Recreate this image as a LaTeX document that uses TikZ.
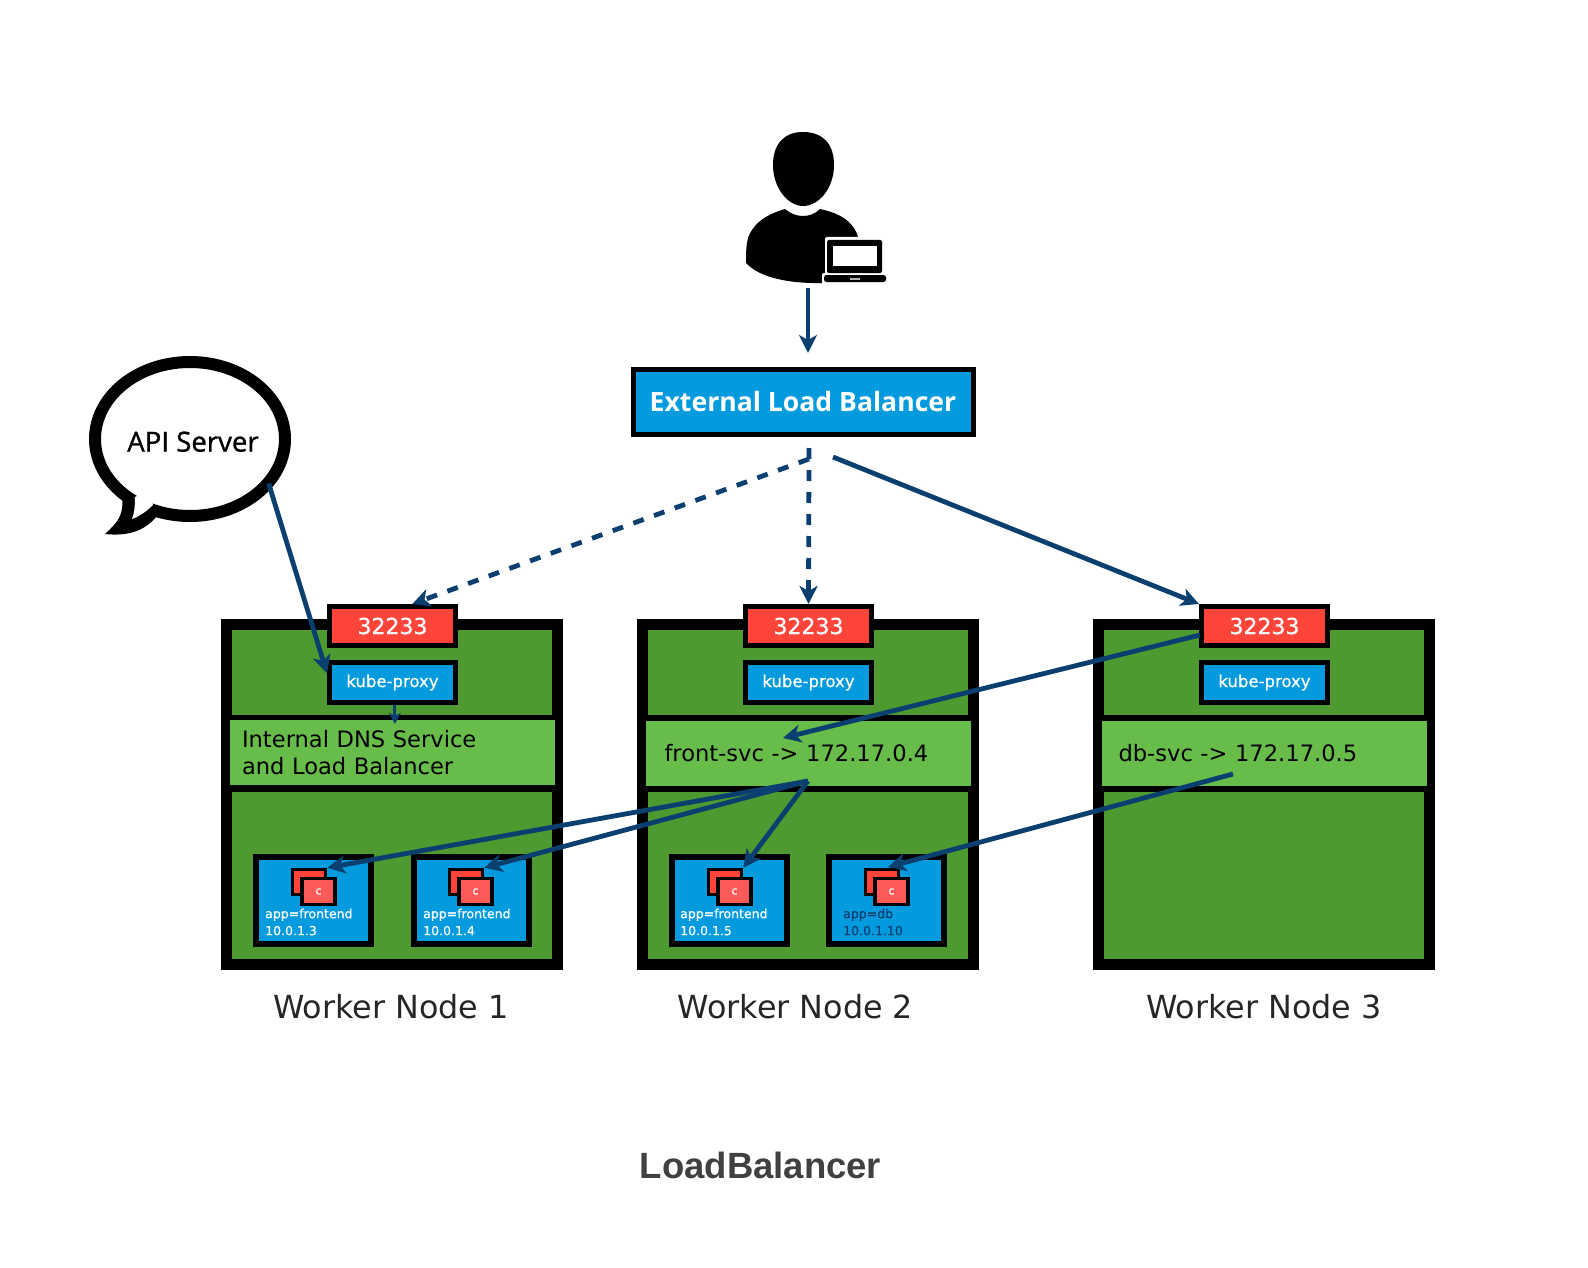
\documentclass[tikz,border=0pt]{standalone}
\usepackage{fontspec}
\usepackage{xcolor}
\usepackage{tikz}
\usetikzlibrary{arrows.meta,shapes.geometric}
\setmainfont{DejaVu Sans}
\newfontfamily\boxfont[FakeBold=0.5]{DejaVu Sans}
\newfontfamily\bubblefont[FakeBold=1]{Open Sans}
\newfontfamily\lbfont{Open Sans}
\newfontfamily\titlefont{Liberation Sans}
\definecolor{nodegreen}{HTML}{4E9A30}
\definecolor{bandgreen}{HTML}{68BC4A}
\definecolor{kubeblue}{HTML}{039BDE}
\definecolor{portred}{HTML}{FF453A}
\definecolor{ctrred}{HTML}{FF5A5A}
\definecolor{flowblue}{HTML}{0B3F6F}
\definecolor{titlegrey}{HTML}{404040}
\tikzset{
  wnode/.style={draw=black, line width=11pt, fill=nodegreen, minimum width=331pt, minimum height=340pt, inner sep=0pt},
  portbox/.style={draw=black, line width=5pt, fill=portred, text=white, minimum width=126pt, minimum height=39pt, inner sep=0pt, font=\boxfont\fontsize{22}{24}\selectfont},
  proxybox/.style={draw=black, line width=5pt, fill=kubeblue, text=white, minimum width=126pt, minimum height=40pt, inner sep=0pt, font=\boxfont\fontsize{16.5}{18}\selectfont},
  bandbar/.style={fill=black, minimum width=321pt, minimum height=77pt, inner sep=0pt},
  bandbox/.style={fill=bandgreen, minimum width=325pt, minimum height=65pt, inner ysep=0pt, align=left, font=\fontsize{22.6}{27}\selectfont},
  podbox/.style={draw=black, line width=6pt, fill=kubeblue, minimum width=115pt, minimum height=87pt, inner sep=0pt},
  ctrback/.style={draw=black, line width=3.5pt, fill=portred, minimum width=33pt, minimum height=25pt, inner sep=0pt},
  ctrfront/.style={draw=black, line width=3.5pt, fill=ctrred, text=white, minimum width=33pt, minimum height=26pt, inner sep=0pt, font=\boxfont\fontsize{11}{11}\selectfont},
  podtext/.style={anchor=west, align=left, inner sep=0pt, text=white, font=\boxfont\fontsize{12.5}{17}\selectfont},
  flow/.style={draw=flowblue, line width=4.8pt, -{Stealth[length=18pt,width=18pt,inset=5pt]}},
  flowdash/.style={flow, dash pattern=on 11pt off 11pt},
  wlabel/.style={font=\fontsize{31.8}{32}\selectfont, text=black!85}
}
\begin{document}
\begin{tikzpicture}[x=1pt,y=-1pt]
\useasboundingbox (0,0) rectangle (1588,1268);
% user with laptop
\fill (803,132) .. controls (823,132) and (834,144) .. (834,165) .. controls (834,188) and (819,206) .. (803,206) .. controls (788,206) and (773,188) .. (773,165) .. controls (773,144) and (784,132) .. (803,132);
\fill (746,263) .. controls (746,250) and (746,238) .. (752,230) .. controls (760,218) and (772,213) .. (785,209) .. controls (791,214) and (797,216) .. (803,216) .. controls (809,216) and (815,214) .. (820,209) .. controls (838,213) and (853,220) .. (858,237) -- (858,250) -- (826,283) .. controls (790,284) and (760,278) .. (746,263);
\fill[white, rounded corners=2pt] (825,237) rectangle (885,275);
\fill[white, rounded corners=2pt] (822,273) rectangle (888,285);
\fill[rounded corners=2pt] (827,240) rectangle (882,273);
\fill[white] (833,246) rectangle (877,266);
\fill[rounded corners=2.5pt] (824,275) rectangle (886,282);
\fill[white!70!black] (850,278) rectangle (860,279.5);
% speech bubble
\node[ellipse, draw=black, line width=12pt, fill=white, minimum width=190pt, minimum height=154pt, inner sep=0pt, font=\bubblefont\fontsize{27.6}{27}\selectfont] (apisrv) at (190,439) {\makebox[0pt]{\hspace{6pt}\raisebox{-12.6pt}[0pt][0pt]{API Server}}};
\fill (122,497) .. controls (124,515) and (118,522) .. (105,534) .. controls (125,536) and (143,533) .. (157,516) -- (145,505) -- cycle;
\fill[white] (135,497) .. controls (135,508) and (134,514) .. (132,519) .. controls (140,516) and (147,511) .. (153,505) -- (150,490) -- cycle;
% load balancer
\node[draw=black, line width=5pt, fill=kubeblue, text=white, minimum width=340pt, minimum height=65pt, inner sep=0pt, font=\lbfont\bfseries\fontsize{26.6}{27}\selectfont] (extlb) at (803,401.5) {External Load Balancer};
\coordinate (usertail) at (808,288);
\coordinate (usertip) at (808,353);
\coordinate (lbtaila) at (809,459);
\coordinate (lbtailb) at (809,448);
\coordinate (lbtailc) at (833,457);
% worker nodes
\node[wnode] (wa) at (392,794.5) {};
\node[wnode] (wb) at (807.5,794.5) {};
\node[wnode] (wc) at (1263.5,794.5) {};
\node[bandbar] (bara) at (392.5,753.5) {};
\node[bandbar] (barb) at (807.5,753.5) {};
\node[bandbar] (barc) at (1263.5,753.5) {};
\node[bandbox, inner xsep=12pt, text width=301pt] (banda) at (392.5,752.5) {Internal DNS Service\\and Load Balancer};
\node[bandbox, inner xsep=19pt, text width=287pt] (bandb) at (808,753.5) {front-svc -> 172.17.0.4};
\node[bandbox, inner xsep=17pt, text width=291pt] (bandc) at (1264,753.5) {db-svc -> 172.17.0.5};
\node[portbox] (porta) at (392.5,626) {32233};
\node[portbox] (portb) at (808.5,626) {32233};
\node[portbox] (portc) at (1264.5,626) {32233};
\node[proxybox] (proxya) at (392.5,682.5) {kube-proxy};
\node[proxybox] (proxyb) at (808.5,682.5) {kube-proxy};
\node[proxybox] (proxyc) at (1264.5,682.5) {kube-proxy};
% pods
\node[podbox] (poda) at (313.5,900.5) {};
\node[podbox] (podb) at (471,900.5) {};
\node[podbox] (podc) at (729.5,900.5) {};
\node[podbox] (podd) at (886.5,900.5) {};
\node[ctrback] (backa) at (309,882) {};
\node[ctrback] (backb) at (466,882) {};
\node[ctrback] (backc) at (725,882) {};
\node[ctrback] (backd) at (882,882) {};
\node[ctrfront] (fronta) at (318.5,891.5) {c};
\node[ctrfront] (frontb) at (475.5,891.5) {c};
\node[ctrfront] (frontc) at (734.5,891.5) {c};
\node[ctrfront] (frontd) at (891.5,891.5) {c};
\node[podtext] (texta) at (265,922) {app=frontend\\10.0.1.3};
\node[podtext] (textb) at (423,922) {app=frontend\\10.0.1.4};
\node[podtext] (textc) at (680,922) {app=frontend\\10.0.1.5};
\node[podtext, text=flowblue] (textd) at (843,922) {app=db\\10.0.1.10};
% labels
\node[wlabel] (laba) at (391,1007) {Worker Node 1};
\node[wlabel] (labb) at (795.5,1007) {Worker Node 2};
\node[wlabel] (labc) at (1264,1007) {Worker Node 3};
\node[text=titlegrey, font=\titlefont\bfseries\fontsize{36.5}{36}\selectfont] (title) at (760.5,1165) {LoadBalancer};
% traffic
\coordinate (frontin) at (783,738);
\coordinate (frontout) at (808,781);
\coordinate (dbout) at (1233,774);
\coordinate (dbin) at (888,867);
\coordinate (ctail) at (1200,635);
\draw[flow] (usertail) -- (usertip);
\draw[flowdash] (lbtaila) -- (porta.48);
\draw[flowdash] (lbtailb) -- (portb.north);
\draw[flow] (lbtailc) -- (portc.north west);
\draw[flow, shorten <=-6pt] (apisrv.-32) -- (proxya.172);
\draw[flow, line width=3pt, -{Stealth[length=11pt,width=12pt,inset=3pt]}, shorten >=-4pt] (proxya.-84) -- (proxya.-84 |- banda.north);
\draw[flow] (ctail) -- (frontin);
\draw[flow] (frontout) -- (backa.north east);
\draw[flow] (frontout) -- (backb.north east);
\draw[flow] (frontout) -- (backc.north east);
\draw[flow] (dbout) -- (dbin);
\end{tikzpicture}
\end{document}
